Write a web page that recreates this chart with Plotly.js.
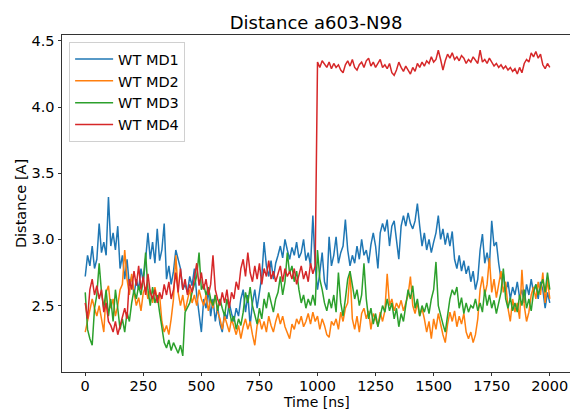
<!DOCTYPE html>
<html>
<head>
<meta charset="utf-8">
<script src="https://cdn.plot.ly/plotly-3.0.1.min.js"></script>
<style>html,body{margin:0;padding:0;background:#fff;}#chart{width:570px;height:409px;}</style>
</head>
<body>
<div id="chart"></div>
<script>
const timeNs = [
0,10,20,30,40,50,60,70,80,90,
100,110,120,130,140,150,160,170,180,190,
200,210,220,230,240,250,260,270,280,290,
300,310,320,330,340,350,360,370,380,390,
400,410,420,430,440,450,460,470,480,490,
500,510,520,530,540,550,560,570,580,590,
600,610,620,630,640,650,660,670,680,690,
700,710,720,730,740,750,760,770,780,790,
800,810,820,830,840,850,860,870,880,890,
900,910,920,930,940,950,960,970,980,990,
1000,1010,1020,1030,1040,1050,1060,1070,1080,1090,
1100,1110,1120,1130,1140,1150,1160,1170,1180,1190,
1200,1210,1220,1230,1240,1250,1260,1270,1280,1290,
1300,1310,1320,1330,1340,1350,1360,1370,1380,1390,
1400,1410,1420,1430,1440,1450,1460,1470,1480,1490,
1500,1510,1520,1530,1540,1550,1560,1570,1580,1590,
1600,1610,1620,1630,1640,1650,1660,1670,1680,1690,
1700,1710,1720,1730,1740,1750,1760,1770,1780,1790,
1800,1810,1820,1830,1840,1850,1860,1870,1880,1890,
1900,1910,1920,1930,1940,1950,1960,1970,1980,1990,
2000];

const wtMD1 = [
2.72,2.88,2.80,2.95,2.78,2.85,3.12,2.90,2.98,2.88,
3.32,2.95,3.05,2.92,3.10,2.78,2.88,2.70,2.85,2.65,
2.72,2.58,2.70,2.62,2.78,2.68,2.85,3.05,2.85,2.98,
2.82,3.08,2.84,2.92,3.12,2.70,2.80,2.66,2.76,2.92,
2.85,2.78,2.62,2.66,2.60,2.72,2.65,2.78,2.58,2.45,
2.30,2.55,2.48,2.62,2.42,2.55,2.38,2.50,2.36,2.30,
2.45,2.40,2.52,2.44,2.38,2.48,2.42,2.55,2.62,2.45,
2.58,2.35,2.52,2.62,2.48,2.60,2.72,2.98,2.80,2.72,
2.84,2.70,2.82,2.88,2.95,2.86,3.00,2.92,2.85,2.94,
2.88,2.98,2.86,2.90,3.00,2.84,2.90,2.80,3.18,2.80,
2.62,2.75,2.90,2.68,2.62,3.02,2.80,2.88,3.02,2.82,
2.90,2.95,3.15,2.92,2.80,2.88,2.82,2.95,2.85,3.00,
2.88,2.92,2.82,2.96,3.05,2.95,2.78,3.05,3.12,3.06,
3.15,2.95,3.10,3.14,3.00,2.85,3.10,3.18,3.10,3.20,
3.12,3.08,3.14,3.27,3.10,2.95,3.05,2.92,3.00,2.90,
2.98,3.05,3.18,3.00,3.08,2.96,3.05,2.95,3.06,2.85,
2.78,2.88,2.76,2.84,2.74,2.80,2.68,2.76,2.62,2.70,
2.92,3.04,2.82,2.90,2.80,3.14,2.95,2.98,2.82,2.70,
2.74,2.60,2.68,2.55,2.64,2.58,2.68,2.56,2.62,2.52,
2.66,2.58,2.70,2.60,2.66,2.55,2.68,2.62,2.48,2.60,
2.52];

const wtMD2 = [
2.30,2.38,2.45,2.55,2.48,2.42,2.50,2.40,2.30,2.60,
2.65,2.48,2.55,2.42,2.50,2.62,2.66,2.92,2.70,2.58,
2.74,2.60,2.50,2.56,2.46,2.60,2.64,2.55,2.62,2.52,
2.64,2.55,2.58,2.38,2.30,2.35,2.28,2.40,2.55,2.88,
2.60,2.50,2.58,2.46,2.55,2.62,2.52,2.58,2.50,2.62,
2.55,2.50,2.58,2.46,2.55,2.48,2.58,2.45,2.40,2.32,
2.42,2.36,2.30,2.40,2.34,2.28,2.35,2.25,2.34,2.40,
2.32,2.38,2.28,2.20,2.35,2.40,2.32,2.38,2.30,2.42,
2.35,2.30,2.38,2.44,2.36,2.42,2.34,2.30,2.25,2.36,
2.32,2.40,2.36,2.42,2.34,2.38,2.44,2.36,2.45,2.38,
2.42,2.32,2.40,2.35,2.28,2.26,2.38,2.35,2.40,2.32,
2.45,2.38,2.48,2.52,2.76,2.40,2.32,2.42,2.30,2.44,
2.48,2.40,2.46,2.32,2.44,2.40,2.35,2.45,2.38,2.46,
2.74,2.50,2.55,2.46,2.52,2.48,2.54,2.46,2.52,2.58,
2.72,2.50,2.44,2.52,2.42,2.48,2.40,2.30,2.38,2.25,
2.40,2.32,2.44,2.35,2.28,2.22,2.36,2.45,2.38,2.46,
2.34,2.42,2.36,2.44,2.30,2.25,2.30,2.22,2.28,2.40,
2.62,2.72,2.58,2.66,2.86,2.60,2.70,2.56,2.65,2.76,
2.60,2.68,2.48,2.38,2.55,2.45,2.52,2.40,2.77,2.50,
2.38,2.45,2.58,2.64,2.55,2.68,2.58,2.75,2.52,2.70,
2.55];

const wtMD3 = [
2.60,2.32,2.25,2.20,2.48,2.58,2.82,2.60,2.48,2.62,
2.42,2.55,2.38,2.62,2.48,2.32,2.40,2.30,2.45,2.38,
2.52,2.62,2.55,2.65,2.58,2.70,2.90,2.62,2.50,2.64,
2.52,2.58,2.45,2.34,2.22,2.18,2.24,2.16,2.22,2.18,
2.14,2.20,2.12,2.45,2.48,2.52,2.60,2.66,2.72,2.90,
2.62,2.66,2.58,2.64,2.55,2.50,2.58,2.46,2.55,2.48,
2.42,2.55,2.45,2.38,2.42,2.32,2.40,2.35,2.45,2.60,
2.52,2.64,2.50,2.42,2.36,2.48,2.40,2.55,2.48,2.60,
2.52,2.45,2.55,2.60,2.72,2.58,2.68,2.90,2.74,2.80,
2.68,2.76,2.62,2.52,2.58,2.48,2.55,2.50,2.58,2.50,
2.92,2.70,2.62,2.52,2.46,2.55,2.48,2.58,2.45,2.75,
2.52,2.42,2.55,2.70,2.76,2.66,2.55,2.62,2.50,2.58,
2.82,2.55,2.40,2.48,2.36,2.44,2.34,2.42,2.50,2.45,
2.55,2.46,2.52,2.40,2.48,2.34,2.44,2.38,2.50,2.62,
2.55,2.65,2.48,2.55,2.42,2.50,2.45,2.52,2.44,2.55,
2.62,2.83,2.50,2.42,2.36,2.30,2.42,2.55,2.62,2.58,
2.64,2.48,2.56,2.44,2.52,2.45,2.50,2.48,2.55,2.46,
2.52,2.45,2.62,2.50,2.58,2.48,2.54,2.44,2.52,2.60,
2.78,2.55,2.48,2.56,2.46,2.52,2.45,2.58,2.50,2.62,
2.48,2.55,2.46,2.60,2.66,2.58,2.64,2.70,2.60,2.75,
2.62];

const wtMD4 = [
2.52,2.40,2.62,2.70,2.58,2.65,2.55,2.62,2.45,2.52,
2.38,2.35,2.30,2.38,2.28,2.34,2.42,2.48,2.40,2.70,
2.62,2.76,2.65,2.80,2.62,2.72,2.58,2.74,2.60,2.55,
2.62,2.52,2.60,2.55,2.66,2.58,2.68,2.55,2.62,2.75,
2.60,2.78,2.62,2.70,2.58,2.66,2.60,2.72,2.82,2.65,
2.75,2.62,2.70,2.58,2.66,2.88,2.62,2.55,2.50,2.60,
2.52,2.62,2.48,2.60,2.55,2.68,2.62,2.78,2.85,2.72,
2.90,2.75,2.68,2.80,2.70,2.82,2.66,2.78,2.72,2.84,
2.70,2.76,2.68,2.74,2.80,2.68,2.78,2.72,2.76,2.70,
2.78,2.66,2.74,2.80,2.70,2.76,2.68,2.82,2.74,2.80,
4.34,4.30,4.35,4.32,4.30,4.34,4.29,4.33,4.30,4.32,
4.28,4.26,4.32,4.35,4.31,4.36,4.30,4.28,4.32,4.34,
4.30,4.35,4.37,4.31,4.34,4.30,4.33,4.36,4.30,4.32,
4.29,4.33,4.26,4.24,4.28,4.34,4.30,4.27,4.31,4.28,
4.25,4.30,4.27,4.33,4.30,4.34,4.31,4.35,4.33,4.38,
4.34,4.36,4.43,4.36,4.28,4.35,4.40,4.37,4.41,4.36,
4.38,4.35,4.39,4.37,4.33,4.36,4.34,4.38,4.35,4.33,
4.43,4.34,4.36,4.33,4.37,4.34,4.31,4.33,4.30,4.32,
4.29,4.31,4.28,4.30,4.27,4.29,4.25,4.30,4.26,4.33,
4.36,4.34,4.41,4.38,4.42,4.37,4.40,4.32,4.29,4.33,
4.30];

const seriesNames = ["WT MD1","WT MD2","WT MD3","WT MD4"];
const seriesColors = ["#1f77b4","#ff7f0e","#2ca02c","#d62728"];
const seriesValues = [wtMD1, wtMD2, wtMD3, wtMD4];

const traces = seriesValues.map((vals, i) => ({
  x: timeNs, y: vals, type: "scatter", mode: "lines",
  name: seriesNames[i],
  line: {color: seriesColors[i], width: 1.5}
}));

const font = "DejaVu Sans, sans-serif";
const layout = {
  width: 570, height: 409,
  margin: {l: 62, r: 0, t: 35, b: 37},
  paper_bgcolor: "#fff", plot_bgcolor: "#fff",
  font: {family: font, size: 14.5, color: "#000"},
  title: {text: "Distance a603-N98", font: {family: font, size: 18, color: "#000"},
          x: 0.5, xref: "paper", xanchor: "center", y: 1 - 23/409, yref: "container", yanchor: "middle"},
  showlegend: true,
  legend: {x: 0.014, y: 0.979, xanchor: "left", yanchor: "top",
           bgcolor: "rgba(255,255,255,0.8)", bordercolor: "#d0d0d0", borderwidth: 1,
           itemwidth: 38,
           font: {family: font, size: 14.5, color: "#000"}},
  xaxis: {range: [-100, 2087], showgrid: false, zeroline: false,
          showline: true, linecolor: "#333", linewidth: 1, mirror: true,
          ticks: "outside", ticklen: 3, tickcolor: "#333", ticklabelstandoff: -2,
          tickvals: [0,250,500,750,1000,1250,1500,1750,2000],
          tickfont: {family: font, size: 14.5}},
  yaxis: {range: [1.998, 4.545], showgrid: false, zeroline: false,
          showline: true, linecolor: "#333", linewidth: 1, mirror: false,
          ticks: "outside", ticklen: 3.5, tickcolor: "#333",
          tickvals: [2.5,3.0,3.5,4.0,4.5], ticktext: ["2.5","3.0","3.5","4.0","4.5"],
          tickfont: {family: font, size: 14.5},
          title: {text: "Distance [A]", font: {family: font, size: 14.5}, standoff: 1}},
  annotations: [{text: "Time [ns]", xref: "paper", yref: "paper", x: 0.5, y: 0,
                 xanchor: "center", yanchor: "top", yshift: -20.5, borderpad: 0, showarrow: false,
                 font: {family: font, size: 14, color: "#000"}}]
};

Plotly.newPlot("chart", traces, layout, {displayModeBar: false, staticPlot: true});
</script>
</body>
</html>
